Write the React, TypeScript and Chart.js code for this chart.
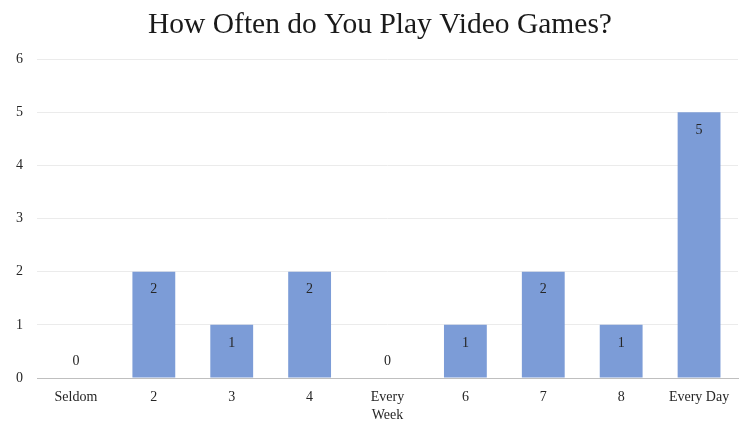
import React, { useEffect, useRef } from "react";
import { Chart, registerables } from "chart.js";

Chart.register(...registerables);

const categories: (string | string[])[] = ["Seldom", "2", "3", "4", ["Every", "Week"], "6", "7", "8", "Every Day"];
const counts: number[] = [0, 2, 1, 2, 0, 1, 2, 1, 5];
const yTicks: number[] = [0, 1, 2, 3, 4, 5, 6];
const titleText = "How Often do You Play Video Games?";

const FONT = "'Liberation Serif', 'Times New Roman', serif";

const labelPlugin = {
  id: "barLabels",
  afterDatasetsDraw(chart: any) {
    const ctx = chart.ctx;
    const meta = chart.getDatasetMeta(0);
    const yScale = chart.scales.y;
    ctx.save();
    ctx.font = `14px ${FONT}`;
    ctx.fillStyle = "#262626";
    ctx.textAlign = "center";
    ctx.textBaseline = "middle";
    meta.data.forEach((bar: any, i: number) => {
      const v = counts[i];
      const y = v === 0 ? yScale.getPixelForValue(0) - 17 : bar.y + 18;
      ctx.fillText(String(v), bar.x, y);
    });
    // title
    ctx.font = `29.5px ${FONT}`;
    ctx.fillStyle = "#1a1a1a";
    ctx.textAlign = "center";
    ctx.textBaseline = "alphabetic";
    ctx.fillText(titleText, 380, 33);
    ctx.restore();
  },
};

export default function App() {
  const ref = useRef<HTMLCanvasElement>(null);
  useEffect(() => {
    if (!ref.current) return;
    const chart = new Chart(ref.current, {
      type: "bar",
      data: {
        labels: categories,
        datasets: [
          {
            data: counts,
            backgroundColor: "#7C9CD7",
            borderWidth: 0,
            barPercentage: 0.55,
            categoryPercentage: 1,
          },
        ],
      },
      options: {
        responsive: false,
        animation: false,
        layout: { padding: { left: 2, right: 2, top: 59, bottom: 0 } },
        plugins: {
          legend: { display: false },
          tooltip: { enabled: false },
          title: { display: false },
        },
        scales: {
          x: {
            afterFit: (axis: any) => {
              axis.height = 45;
            },
            grid: { display: false },
            border: { display: true, color: "#bfbfbf", width: 1 },
            ticks: {
              color: "#262626",
              font: { family: FONT, size: 14, lineHeight: 1.3 },
              maxRotation: 0,
              autoSkip: false,
              padding: 2,
            },
          },
          y: {
            min: 0,
            max: 6,
            afterBuildTicks: (axis: any) => {
              axis.ticks = yTicks.map((v) => ({ value: v }));
            },
            grid: {
              color: (c: any) => (c.tick && c.tick.value === 0 ? "#bfbfbf" : "#ebebeb"),
              drawTicks: false,
            },
            border: { display: false },
            ticks: {
              color: "#262626",
              font: { family: FONT, size: 14 },
              padding: 14,
            },
          },
        },
      },
      plugins: [labelPlugin],
    });
    return () => chart.destroy();
  }, []);
  return (
    <div style={{ position: "fixed", left: 0, top: 0, width: 740, height: 423, background: "#fff" }}>
      <canvas ref={ref} width={740} height={423} />
    </div>
  );
}
